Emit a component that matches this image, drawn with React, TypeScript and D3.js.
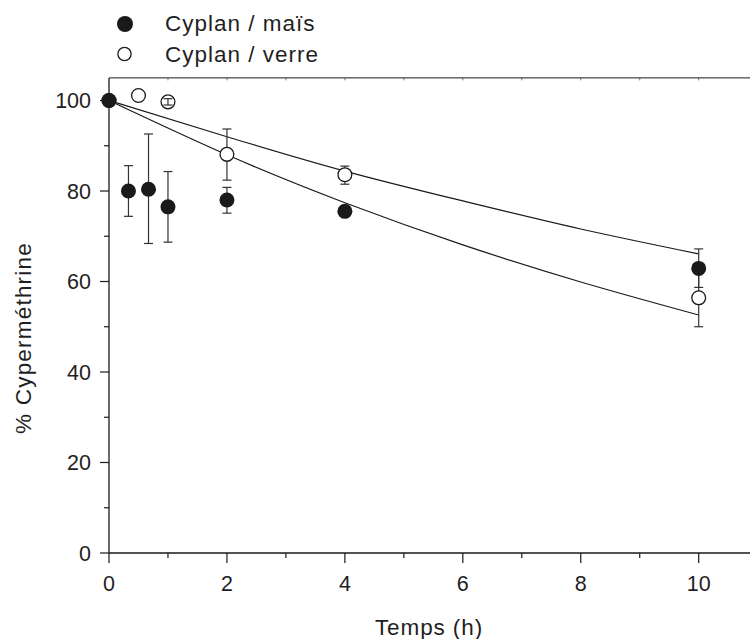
import React from "react";
import * as d3 from "d3";

const seriesNames = ["Cyplan / maïs", "Cyplan / verre"];

// Cyplan / maïs (filled)
const maisTime = [0, 0.33, 0.67, 1, 2, 4, 10];
const maisValue = [100, 80.0, 80.4, 76.5, 78.0, 75.5, 62.9];
const maisErrLow = [100, 74.4, 68.4, 68.7, 75.1, 75.5, 58.7];
const maisErrHigh = [100, 85.6, 92.6, 84.3, 80.8, 75.5, 67.2];

// Cyplan / verre (open)
const verreTime = [0, 0.5, 1, 2, 4, 10];
const verreValue = [100, 101.1, 99.7, 88.1, 83.6, 56.4];
const verreErrLow = [100, 101.1, 99.0, 82.4, 81.5, 50.0];
const verreErrHigh = [100, 101.1, 100.4, 93.7, 85.5, 62.8];

// fitted curves
const fitTime = [0, 2, 4, 6, 8, 10];
const fitUpper = [100, 92.0, 84.4, 77.8, 71.6, 66.1];
const fitLower = [100, 88.0, 77.4, 68.1, 59.9, 52.6];

const xMajorTicks = [0, 2, 4, 6, 8, 10];
const xMinorTicks = [1, 3, 5, 7, 9, 11];
const yMajorTicks = [0, 20, 40, 60, 80, 100];
const yMinorTicks = [10, 30, 50, 70, 90];
const topTicks = [1, 2, 3, 4, 5, 6, 7, 8, 9, 10, 11];

const W = 750;
const H = 639;
const FONT = "'Liberation Sans', Arial, Helvetica, sans-serif";

export default function App() {
  const x = d3.scaleLinear().domain([0, 10]).range([109, 698.7]);
  const y = d3.scaleLinear().domain([0, 100]).range([553, 100.5]);
  const yTop = y(105);
  const xRight = W;

  const line = d3
    .line<number>()
    .x((_, i) => x(fitTime[i]))
    .y((d) => y(d))
    .curve(d3.curveNatural);

  const r = 7.5;
  const cap = 4.5;
  const ink = "#1a1a1a";
  const txt = "#1f1f1f";

  const errBar = (t: number, lo: number, hi: number, key: string) => {
    if (hi - lo < 0.01) return null;
    const cx = x(t);
    return (
      <g key={key} stroke="#333" strokeWidth={1.2}>
        <line x1={cx} x2={cx} y1={y(lo)} y2={y(hi)} />
        <line x1={cx - cap} x2={cx + cap} y1={y(lo)} y2={y(lo)} />
        <line x1={cx - cap} x2={cx + cap} y1={y(hi)} y2={y(hi)} />
      </g>
    );
  };

  return (
    <svg
      width={W}
      height={H}
      style={{ position: "absolute", left: 0, top: 0, background: "#fff" }}
      fontFamily={FONT}
    >
      <rect width={W} height={H} fill="#fff" />
      {/* axes frame */}
      <g stroke={ink} strokeWidth={1.3} fill="none">
        <line x1={109} x2={109} y1={yTop} y2={553} />
        <line x1={109} x2={xRight} y1={553} y2={553} />
        <line x1={109} x2={xRight} y1={yTop} y2={yTop} strokeWidth={1} />
      </g>
      {/* top ticks */}
      <g stroke="#555" strokeWidth={0.8}>
        {topTicks.map((t) => (
          <line key={t} x1={x(t)} x2={x(t)} y1={yTop} y2={yTop + 2.5} />
        ))}
      </g>
      {/* x ticks */}
      <g stroke={ink} strokeWidth={1.2}>
        {xMajorTicks.map((t) => (
          <line key={"M" + t} x1={x(t)} x2={x(t)} y1={553} y2={563} />
        ))}
        {xMinorTicks.map((t) => (
          <line key={"m" + t} x1={x(t)} x2={x(t)} y1={553} y2={558} />
        ))}
      </g>
      <g fontSize={21.5} fill={txt} textAnchor="middle">
        {xMajorTicks.map((t) => (
          <text key={t} x={x(t)} y={591}>
            {t}
          </text>
        ))}
      </g>
      {/* y ticks */}
      <g stroke={ink} strokeWidth={1.2}>
        {yMajorTicks.map((t) => (
          <line key={"M" + t} x1={100} x2={109} y1={y(t)} y2={y(t)} />
        ))}
        {yMinorTicks.map((t) => (
          <line key={"m" + t} x1={104} x2={109} y1={y(t)} y2={y(t)} />
        ))}
      </g>
      <g fontSize={21.5} fill={txt} textAnchor="end">
        {yMajorTicks.map((t) => (
          <text key={t} x={91} y={y(t) + 7.7}>
            {t}
          </text>
        ))}
      </g>
      {/* axis titles */}
      <text
        x={429}
        y={635}
        fontSize={22.5}
        letterSpacing={0.9}
        fill={txt}
        textAnchor="middle"
      >
        Temps (h)
      </text>
      <text
        transform={`translate(31,338) rotate(-90)`}
        fontSize={22.5}
        letterSpacing={1.2}
        fill={txt}
        textAnchor="middle"
      >
        % Cyperméthrine
      </text>
      {/* fitted curves */}
      <g fill="none" stroke={ink} strokeWidth={1.2}>
        <path d={line(fitUpper) || ""} />
        <path d={line(fitLower) || ""} />
      </g>
      {/* error bars */}
      {maisTime.map((t, i) =>
        errBar(t, maisErrLow[i], maisErrHigh[i], "me" + i)
      )}
      {verreTime.map((t, i) =>
        t === 1 ? null : errBar(t, verreErrLow[i], verreErrHigh[i], "ve" + i)
      )}
      {/* points */}
      {verreTime.map((t, i) => (
        <circle
          key={"v" + i}
          cx={x(t)}
          cy={y(verreValue[i])}
          r={r - 0.6}
          fill="#fff"
          stroke={ink}
          strokeWidth={1.3}
        />
      ))}
      {verreTime.map((t, i) =>
        t === 1 ? errBar(t, verreErrLow[i], verreErrHigh[i], "vt" + i) : null
      )}
      {maisTime.map((t, i) => (
        <circle key={"m" + i} cx={x(t)} cy={y(maisValue[i])} r={r} fill={ink} />
      ))}
      {/* legend */}
      <circle cx={125} cy={24} r={8} fill={ink} />
      <circle cx={124.5} cy={54} r={6.6} fill="#fff" stroke={ink} strokeWidth={1.3} />
      <text x={165} y={31} fontSize={22.5} letterSpacing={1} fill={txt}>
        {seriesNames[0]}
      </text>
      <text x={165} y={62} fontSize={22.5} letterSpacing={1} fill={txt}>
        {seriesNames[1]}
      </text>
    </svg>
  );
}
